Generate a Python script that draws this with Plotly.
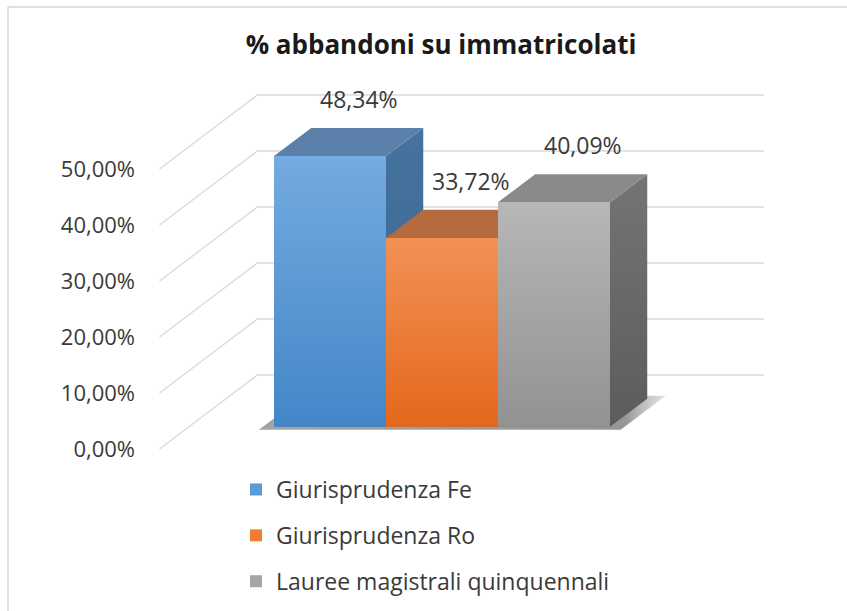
import plotly.graph_objects as go

# ---------------- data ----------------
categories = ["Giurisprudenza Fe", "Giurisprudenza Ro", "Lauree magistrali quinquennali"]
values = [48.34, 33.72, 40.09]
value_labels = ["48,34%", "33,72%", "40,09%"]
tick_values = [0, 10, 20, 30, 40, 50]
tick_labels = ["0,00%", "10,00%", "20,00%", "30,00%", "40,00%", "50,00%"]
chart_title = "% abbandoni su immatricolati"

# ---------------- style ----------------
legend_colors = ["#5b9bd5", "#ed7d31", "#a5a5a5"]
front_top = ["#74abe0", "#f39157", "#b7b7b7"]
front_bot = ["#4386c8", "#e3681a", "#929292"]
side_top = ["#46729f", "#b5601f", "#747474"]
side_bot = ["#3a6590", "#a05018", "#5c5c5c"]
top_face = ["#5b80a9", "#b86a3f", "#8a8a8a"]
FONT = "Open Sans"
TXT = "#3a3a3a"

W, H = 847, 611
ML, MR, MT, MB = 140, 10, 60, 140
PW, PH = W - ML - MR, H - MT - MB

# projection of the pseudo-3D scene onto the 2D axes
KX, KY = 0.875, 13.21          # shift per unit of depth (x in bar widths, y in %)
D0, D1 = 0.30, 0.68            # depth of bar front / back
XL, XR = -0.76, 3.76           # floor extent in bar widths
SX, AX = 112.0, 244.6          # px per bar width, px offset
SY, BY = 5.6, 449.0            # px per %, px of 0 at the front edge

x_range = [(ML - AX) / SX, (ML + PW - AX) / SX]
y_range = [(BY - (MT + PH)) / SY, (BY - MT) / SY]


def proj(x, d, v):
    return x + KX * d, v + KY * d


def poly(pts):
    xs, ys = [], []
    for (x, d, v) in pts + [pts[0]]:
        px, py = proj(x, d, v)
        xs.append(px)
        ys.append(py)
    return xs, ys


def paper_x(px):
    return (px - ML) / PW


def paper_y(py):
    return 1 - (py - MT) / PH


fig = go.Figure()

# gridlines (front diagonal + back wall)
gx, gy = [], []
for v in tick_values:
    for (x, d) in [(XL, 0), (XL, 1), (XR, 1)]:
        px, py = proj(x, d, v)
        gx.append(px)
        gy.append(py)
    gx.append(None)
    gy.append(None)
fig.add_trace(go.Scatter(x=gx, y=gy, mode="lines", line=dict(color="#d9d9d9", width=1.3),
                         hoverinfo="skip", showlegend=False))

# legend-carrying bars (front faces)
for i, (cat, v) in enumerate(zip(categories, values)):
    cx, base = proj(i + 0.5, D0, 0)
    fig.add_trace(go.Bar(x=[cx], y=[v], base=[base], width=[1.0], name=cat,
                         marker=dict(color=legend_colors[i], line=dict(width=0)),
                         legendgroup=cat, hoverinfo="skip"))

# floor shadow
n = len(values)
sx, sy = poly([(-0.1, 0.26, 0), (n + 0.13, 0.26, 0), (n + 0.13, 0.72, 0), (-0.1, 0.72, 0)])
fig.add_trace(go.Scatter(x=sx, y=sy, mode="lines", fill="toself", line=dict(width=0),
                         fillgradient=dict(type="horizontal",
                                           colorscale=[[0, "rgba(90,90,90,0.55)"],
                                                       [0.9, "rgba(80,80,80,0.6)"],
                                                       [1, "rgba(160,160,160,0.3)"]]),
                         hoverinfo="skip", showlegend=False))

# 3D faces
for i, v in enumerate(values):
    sxs, sys_ = poly([(i + 1, D0, 0), (i + 1, D1, 0), (i + 1, D1, v), (i + 1, D0, v)])
    fig.add_trace(go.Scatter(x=sxs, y=sys_, mode="lines", fill="toself", line=dict(width=0),
                             fillgradient=dict(type="vertical",
                                               colorscale=[[0, side_bot[i]], [1, side_top[i]]]),
                             hoverinfo="skip", showlegend=False))
    txs, tys = poly([(i, D0, v), (i + 1, D0, v), (i + 1, D1, v), (i, D1, v)])
    fig.add_trace(go.Scatter(x=txs, y=tys, mode="lines", fill="toself", line=dict(width=0),
                             fillcolor=top_face[i], hoverinfo="skip", showlegend=False))
    fxs, fys = poly([(i, D0, 0), (i + 1, D0, 0), (i + 1, D0, v), (i, D0, v)])
    fig.add_trace(go.Scatter(x=fxs, y=fys, mode="lines", fill="toself", line=dict(width=0),
                             fillgradient=dict(type="vertical",
                                               colorscale=[[0, front_bot[i]], [1, front_top[i]]]),
                             hoverinfo="skip", showlegend=False))

# data labels
annotations = []
for i, (v, lab) in enumerate(zip(values, value_labels)):
    ax_, ay_ = proj(i + 0.5, (D0 + D1) / 2, v)
    annotations.append(dict(x=ax_, y=ay_, text=lab, showarrow=False, xshift=10, yshift=43,
                            font=dict(family=FONT, size=23, color=TXT)))

shapes = [
    dict(type="line", xref="paper", yref="paper", x0=paper_x(8), x1=paper_x(W + 5),
         y0=paper_y(7), y1=paper_y(7), line=dict(color="#d4d4d4", width=1.5)),
    dict(type="line", xref="paper", yref="paper", x0=paper_x(8), x1=paper_x(8),
         y0=paper_y(7), y1=paper_y(H + 5), line=dict(color="#d4d4d4", width=1.5)),
]

fig.update_layout(
    width=W, height=H,
    margin=dict(l=ML, r=MR, t=MT, b=MB, autoexpand=False),
    paper_bgcolor="white", plot_bgcolor="white",
    barmode="overlay",
    title=dict(text="<b>" + chart_title + "</b>", x=441 / W, xref="container", xanchor="center",
               y=1 - 45 / H, yref="container", yanchor="middle",
               font=dict(family=FONT, size=26, color="#1a1a1a")),
    xaxis=dict(range=x_range, visible=False, fixedrange=True),
    yaxis=dict(range=y_range, tickvals=tick_values, ticktext=tick_labels, showgrid=False,
               zeroline=False, showline=False, ticks="", ticklabelstandoff=4,
               tickfont=dict(family=FONT, size=22, color=TXT), fixedrange=True),
    legend=dict(orientation="v", x=paper_x(236), y=paper_y(468), xanchor="left", yanchor="top",
                font=dict(family=FONT, size=23, color=TXT), tracegroupgap=13,
                bgcolor="rgba(0,0,0,0)"),
    annotations=annotations,
    shapes=shapes,
    showlegend=True,
)

fig.write_html("out.html", config={"displayModeBar": False},
               post_script="document.body.style.margin='0';document.body.style.overflow='hidden';")
